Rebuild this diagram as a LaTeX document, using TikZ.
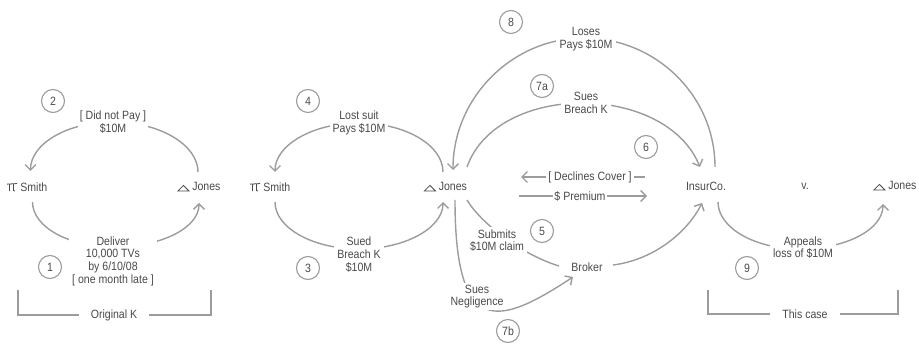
\documentclass[tikz,border=0pt]{standalone}
\usepackage{fontspec}
\setmainfont{Liberation Sans}[FakeStretch=0.88]
\usetikzlibrary{arrows.meta}
\definecolor{ink}{HTML}{4A4A4A}
\definecolor{wire}{HTML}{9C9C9C}
\newcommand{\defic}{\tikz[baseline=0pt]\draw[ink,line width=0.8pt,line join=miter] (0pt,0pt) -- (11pt,0pt) -- (5.5pt,5.5pt) -- cycle;}
\newcommand{\plic}{\tikz[baseline=0pt]\draw[ink,line width=0.8pt] (0pt,7pt) -- (10pt,7.6pt) (2.6pt,7.15pt) -- (2.4pt,0pt) (6.4pt,7.4pt) -- (6.4pt,1.6pt) .. controls (6.4pt,0.3pt) .. (8pt,0.2pt);}
\tikzset{
  txt/.style={text=ink, font=\fontsize{12}{12.7}\selectfont},
  person/.style={txt, inner sep=1pt},
  lbl/.style={txt, fill=white, align=center, inner sep=3pt},
  conn/.style={draw=wire, line width=1.4pt, -{Straight Barb[length=5.5pt,width=11pt]}},
  plainline/.style={draw=wire, line width=1.4pt},
  num/.style={circle, draw=wire, line width=1.1pt, minimum size=23pt, inner sep=0pt, txt},
}
\begin{document}
\begin{tikzpicture}[x=1pt,y=-1pt]
\useasboundingbox (0,0) rectangle (919,344);
% parties
\node[person] (smith1) at (27,187) {\plic\ Smith};
\node[person] (jones1) at (199,187) {\defic\ Jones};
\node[person] (smith2) at (270,187) {\plic\ Smith};
\node[person] (jones2) at (445.5,187) {\defic\ Jones};
\node[person] (insur) at (706,186) {InsurCo.};
\node[person] (vs) at (805,186) {v.};
\node[person] (jones4) at (895,186) {\defic\ Jones};
\node[person] (broker) at (587,267) {Broker};
% label anchor coordinates
\coordinate (t2) at (113,122);
\coordinate (b1) at (114,247);
\coordinate (t4) at (359,123);
\coordinate (b3) at (359,249);
\coordinate (t8) at (584,38);
\coordinate (b9) at (800,249);
\coordinate (dcL) at (521,177);
\coordinate (dcR) at (645,177);
\coordinate (prL) at (519,196);
\coordinate (prR) at (647,196);
% group 1
\draw[conn] ([shift={(-1,-15)}]jones1.center) .. controls +(0,-27) and +(47,0) .. (t2)
  .. controls +(-46,0) and +(0,-27) .. ([shift={(3.5,-16)}]smith1.center);
\draw[conn] ([shift={(5.5,15)}]smith1.center) .. controls +(0,25) and +(-45,0) .. (b1)
  .. controls +(47,0) and +(0,25) .. ([shift={(0,16)}]jones1.center);
% group 2
\draw[conn] ([shift={(-2.5,-15)}]jones2.center) .. controls +(0,-27) and +(46,0) .. (t4)
  .. controls +(-46,0) and +(0,-27) .. ([shift={(5,-15)}]smith2.center);
\draw[conn] ([shift={(5,15)}]smith2.center) .. controls +(0,26) and +(-46,0) .. (b3)
  .. controls +(46,0) and +(0,26) .. ([shift={(-2.5,15)}]jones2.center);
% group 3
\draw[conn] ([shift={(9,-19)}]insur.center) .. controls +(0,-71) and +(72,0) .. (t8)
  .. controls +(-72,0) and +(0,-72) .. ([shift={(7.5,-17)}]jones2.center);
\draw[conn] ([shift={(21.5,-20)}]jones2.center) .. controls +(30,-85) and +(-35,-85) .. ([shift={(-6,-19)}]insur.center);
\draw[plainline] ([shift={(21.5,13)}]jones2.center) .. controls +(13,22) and +(-39,-12) .. ([shift={(-28,-1)}]broker.center);
\draw[conn] ([shift={(26,-2)}]broker.center) .. controls +(40,-5) and +(-15,30) .. ([shift={(-4,17)}]insur.center);
\draw[conn] ([shift={(9.5,13)}]jones2.center) .. controls +(0,140) and +(-73,48) .. ([shift={(-14,10)}]broker.center);
\draw[conn] (dcR) -- (dcL);
\draw[conn] (prL) -- (prR);
% group 4
\draw[conn] ([shift={(12,16)}]insur.center) .. controls +(0,26) and +(-45,0) .. (b9)
  .. controls +(45,0) and +(0,26) .. ([shift={(-12,18)}]jones4.center);
% brackets
\draw[plainline] (18,290) -- (18,315) -- (211,315) -- (211,290);
\draw[plainline] (708,290) -- (708,314) -- (898,314) -- (898,290);
% labels
\node[lbl, inner sep=2pt] (L2) at (t2) {{[ Did not Pay ]}\\\$10M};
\node[lbl] (L1) at (113,261) {Deliver\\10,000 TVs\\by 6/10/08\\{}{[ one month late ]}};
\node[lbl] (L4) at (t4) {Lost suit\\Pays \$10M};
\node[lbl] (L3) at (359,254.5) {Sued\\Breach K\\\$10M};
\node[lbl, inner sep=4pt] (L8) at (586,39) {Loses\\Pays \$10M};
\node[lbl, inner sep=3.5pt] (L7a) at (586,103) {Sues\\Breach K};
\node[lbl, inner sep=2.5pt] (L5) at (497,240.5) {Submits\\\$10M claim};
\node[lbl, inner sep=2pt] (L7b) at (477,296.5) {Sues\\Negligence};
\node[lbl] (L9) at (803,247.5) {Appeals\\loss of \$10M};
\node[lbl, inner xsep=2pt, inner ysep=1pt] (Ldc) at (590,177) {{[ Declines Cover ]}};
\node[lbl, inner xsep=1pt, inner ysep=1pt] (Lpr) at (580,196) {\$ Premium};
\node[lbl, inner xsep=12pt, inner ysep=1pt] (LK) at (114,315) {Original K};
\node[lbl, inner xsep=12pt, inner ysep=1pt] (LC) at (805,314) {This case};
% step numbers
\node[num] (n1) at (50,267) {1};
\node[num] (n2) at (53,101) {2};
\node[num] (n3) at (308,268) {3};
\node[num] (n4) at (308,101) {4};
\node[num] (n5) at (542,231) {5};
\node[num] (n6) at (646,147) {6};
\node[num] (n7a) at (542,86) {7a};
\node[num] (n7b) at (508,331) {7b};
\node[num] (n8) at (511,22) {8};
\node[num] (n9) at (747,268) {9};
\end{tikzpicture}
\end{document}
